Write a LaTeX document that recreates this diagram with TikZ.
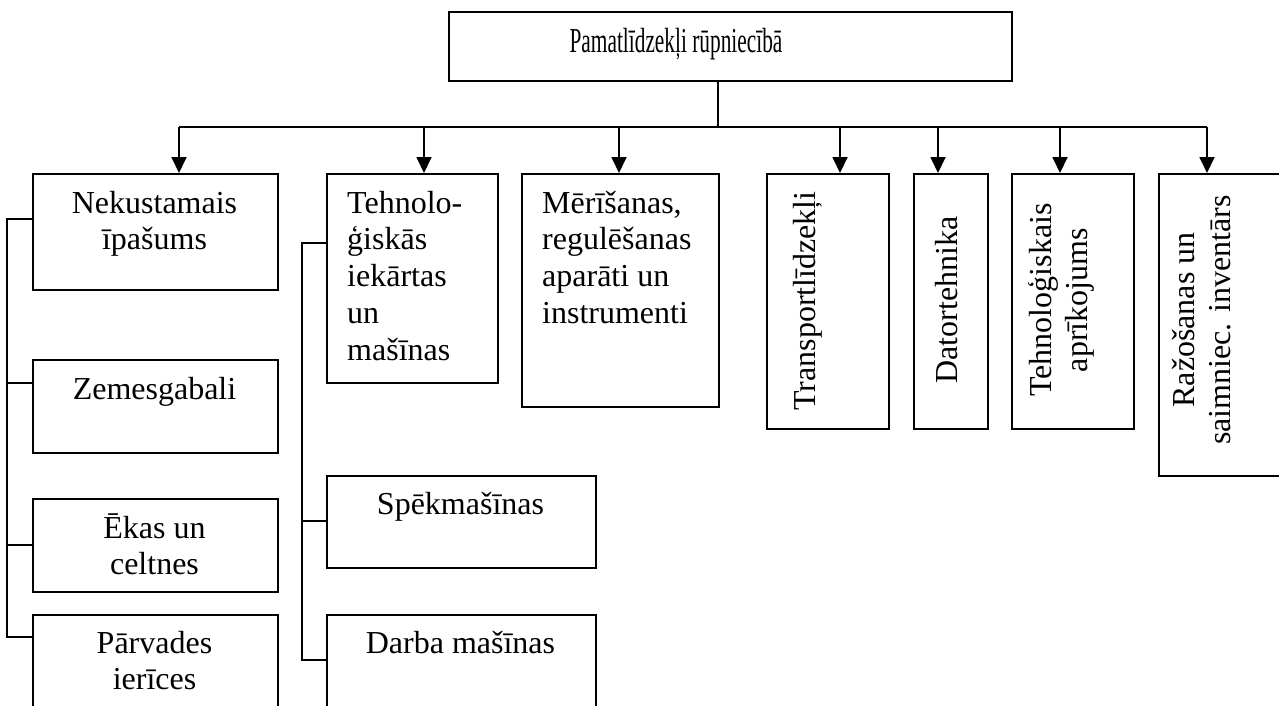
\documentclass[tikz,border=0pt]{standalone}
\usepackage{fontspec}
\setmainfont{Liberation Serif}
\usetikzlibrary{arrows.meta}
\newcommand\clines[1]{\vtop{\halign{\hfil##\hfil\cr#1\crcr}}}
\newcommand\llines[1]{\vtop{\halign{##\hfil\cr#1\crcr}}}
\begin{document}
\begin{tikzpicture}[x=1pt,y=-1pt,
  box/.style={draw, line width=1.6pt, inner sep=0pt, anchor=north west},
  lbl/.style={anchor=base, inner sep=0pt, font=\fontsize{32}{36.8}\selectfont},
  arr/.style={line width=1.8pt, -{Triangle[length=16pt,width=15pt]}},
  stem/.style={line width=1.5pt},
  tree/.style={line width=1.3pt}]
\useasboundingbox (0,0) rectangle (1279,705);
\clip (0,0) rectangle (1279,705);

% boxes
\node[box, minimum width=563pt, minimum height=69pt] (top) at (448,11) {};
\node[box, minimum width=245pt, minimum height=116pt] (nek) at (32,173) {};
\node[box, minimum width=245pt, minimum height=93pt] (zem) at (32,359) {};
\node[box, minimum width=245pt, minimum height=93pt] (eka) at (32,498) {};
\node[box, minimum width=245pt, minimum height=120pt] (par) at (32,614) {};
\node[box, minimum width=171pt, minimum height=209pt] (teh) at (326,173) {};
\node[box, minimum width=269pt, minimum height=92pt] (spe) at (326,475) {};
\node[box, minimum width=269pt, minimum height=120pt] (dar) at (326,614) {};
\node[box, minimum width=197pt, minimum height=233pt] (mer) at (521,173) {};
\node[box, minimum width=122pt, minimum height=255pt] (tra) at (766,173) {};
\node[box, minimum width=74pt, minimum height=255pt] (dat) at (913,173) {};
\node[box, minimum width=122pt, minimum height=255pt] (tea) at (1011,173) {};
\node[box, minimum width=150pt, minimum height=302pt] (raz) at (1158,173) {};

% texts
\node[lbl, font=\fontsize{35}{40}\selectfont] (ttop) at (676,52) {\scalebox{0.61}[1]{Pamatlīdzekļi rūpniecībā}};
\node[lbl] (tnek) at (154.5,213) {\clines{Nekustamais\cr īpašums}};
\node[lbl] (tzem) at (154.5,399) {Zemesgabali};
\node[lbl] (teka) at (154.5,538) {\clines{Ēkas un\cr celtnes}};
\node[lbl] (tpar) at (154.5,653) {\clines{Pārvades\cr ierīces}};
\node[lbl, anchor=base west] (tteh) at (347,213) {\llines{Tehnolo-\cr ģiskās\cr iekārtas\cr un\cr mašīnas}};
\node[lbl, anchor=base west] (tmer) at (542,213) {\llines{Mērīšanas,\cr regulēšanas\cr aparāti un\cr instrumenti}};
\node[lbl] (tspe) at (460.5,514) {Spēkmašīnas};
\node[lbl] (tdar) at (460.5,653) {Darba mašīnas};
\node[lbl, rotate=90] (ttra) at (815,301) {Transportlīdzekļi};
\node[lbl, rotate=90] (tdat) at (957,300) {Datortehnika};
\node[lbl, rotate=90] (ttea) at (1051,300) {\clines{Tehnoloģiskais\cr aprīkojums}};
\node[lbl, rotate=90] (traz) at (1194,320) {\clines{Ražošanas un\cr saimniec. inventārs}};

% main connectors
\coordinate (s) at (718,127);
\coordinate (b1) at (179,127);
\coordinate (b2) at (424,127);
\coordinate (b3) at (619,127);
\coordinate (b4) at (840,127);
\coordinate (b5) at (938,127);
\coordinate (b6) at (1060,127);
\coordinate (b7) at (1207,127);
\draw[stem] (top.south -| s) -- (s);
\draw[line width=1.8pt] (b1) -- (b7);
\draw[arr] (b1) -- (b1 |- nek.north);
\draw[arr] (b2) -- (b2 |- teh.north);
\draw[arr] (b3) -- (b3 |- mer.north);
\draw[arr] (b4) -- (b4 |- tra.north);
\draw[arr] (b5) -- (b5 |- dat.north);
\draw[arr] (b6) -- (b6 |- tea.north);
\draw[arr] (b7) -- (b7 |- raz.north);

% left tree
\coordinate (L1) at (7,219);
\coordinate (L2) at (7,383);
\coordinate (L3) at (7,545);
\coordinate (L4) at (7,637);
\draw[tree] (L1 -| nek.west) -- (L1) -- (L4) -- (L4 -| par.west);
\draw[tree] (L2) -- (L2 -| zem.west);
\draw[tree] (L3) -- (L3 -| eka.west);

% middle tree
\coordinate (M1) at (302,243);
\coordinate (M2) at (302,521);
\coordinate (M3) at (302,660);
\draw[tree] (M1 -| teh.west) -- (M1) -- (M3) -- (M3 -| dar.west);
\draw[tree] (M2) -- (M2 -| spe.west);
\end{tikzpicture}
\end{document}
